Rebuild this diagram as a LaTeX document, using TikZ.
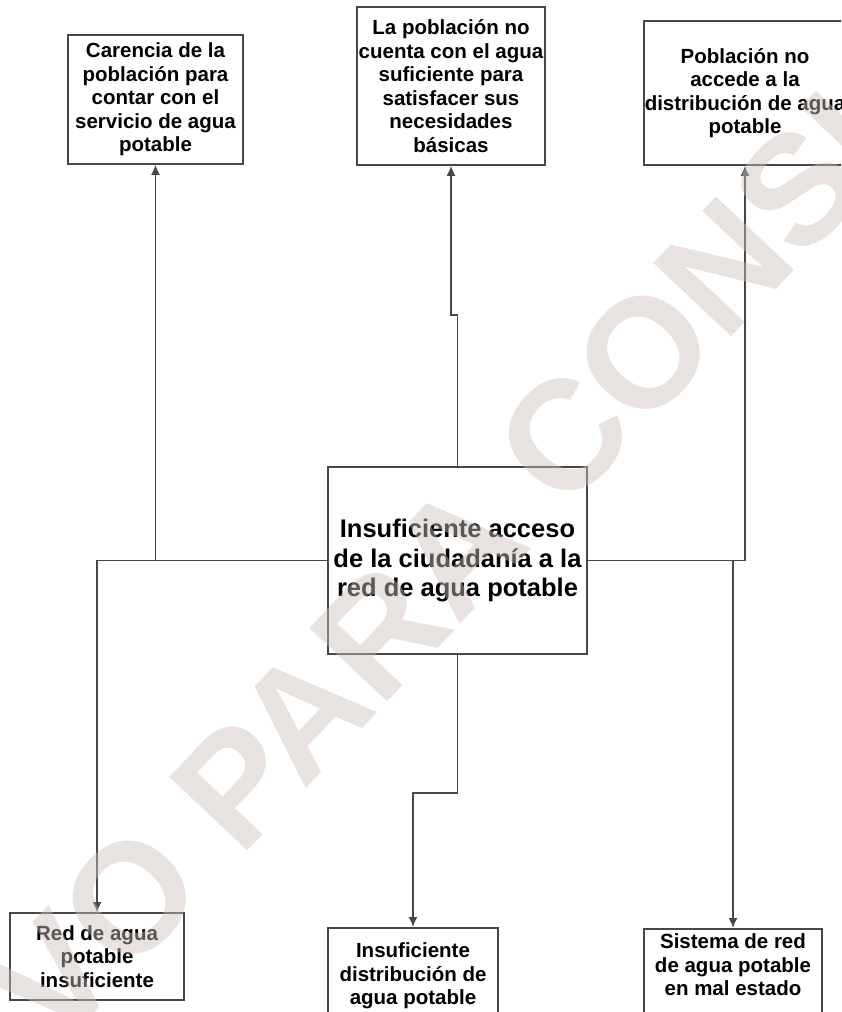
\documentclass[tikz,border=0pt]{standalone}
\usepackage{fontspec}
\setmainfont{Liberation Sans}
\usetikzlibrary{arrows.meta,calc}
\definecolor{edge}{HTML}{474747}
\definecolor{wm}{rgb}{0.80,0.76,0.73}
\begin{document}
\begin{tikzpicture}[x=1pt,y=-1pt,
  box/.style={draw=edge,line width=1.6pt,align=center,inner sep=0pt,
    font=\bfseries\fontsize{20.5}{23.5}\selectfont},
  bigbox/.style={box,font=\bfseries\fontsize{25.5}{29.3}\selectfont},
  conn/.style={draw=edge,line width=1.6pt},
  arr/.style={conn,-{Latex[length=10pt,width=9pt]}},
  watermark/.style={text=wm,opacity=0.45,rotate=46.7,inner sep=0pt,
    font=\bfseries\fontsize{155.6}{155.6}\selectfont}]
\useasboundingbox (0,0) rectangle (841,1012);
\begin{scope}
\clip (0,0) rectangle (841,1012);
% effects (top)
\node[box,minimum width=175pt,minimum height=129pt] (b1) at (155.5,99.5)
  {Carencia de la\\población para\\contar con el\\servicio de agua\\potable};
\node[box,minimum width=188pt,minimum height=158pt] (b2) at (451,86)
  {La población no\\cuenta con el agua\\suficiente para\\satisfacer sus\\necesidades\\básicas};
\node[box,minimum width=202pt,minimum height=144pt] (b3) at (745,93)
  {Población no\\accede a la\\distribución de agua\\potable};
% central problem
\node[bigbox,minimum width=259pt,minimum height=187pt] (c) at (457.5,560.5)
  {Insuficiente acceso\\de la ciudadanía a la\\red de agua potable};
% causes (bottom)
\node[box,minimum width=174pt,minimum height=87pt] (b4) at (97,956.5)
  {Red de agua\\potable\\insuficiente};
\node[box,anchor=north,minimum width=170pt,inner ysep=15pt,text depth=40pt] (b5) at (413,927)
  {Insuficiente\\distribución de\\agua potable};
\node[box,anchor=north,minimum width=178pt,inner ysep=5pt,text depth=40pt] (b6) at (733,928)
  {Sistema de red\\de agua potable\\en mal estado};
% junctions
\coordinate (jL) at (b1.south |- c.west);
\coordinate (jR) at (b6.north |- c.east);
% connectors
\draw[arr] (c.west) -| (b4.north);
\draw[arr] (jL) -- (b1.south);
\draw[arr] (c.east) -| (b3.south);
\draw[arr] (jR) -- (b6.north);
\draw[arr] (c.north) -- ++(0,-151) -| (b2.south);
\draw[arr] (c.south) -- ++(0,138) -| (b5.north);
% watermark
\node[watermark] (wmk) at (464,543) {VO PARA CONSU};
\end{scope}
\end{tikzpicture}
\end{document}
